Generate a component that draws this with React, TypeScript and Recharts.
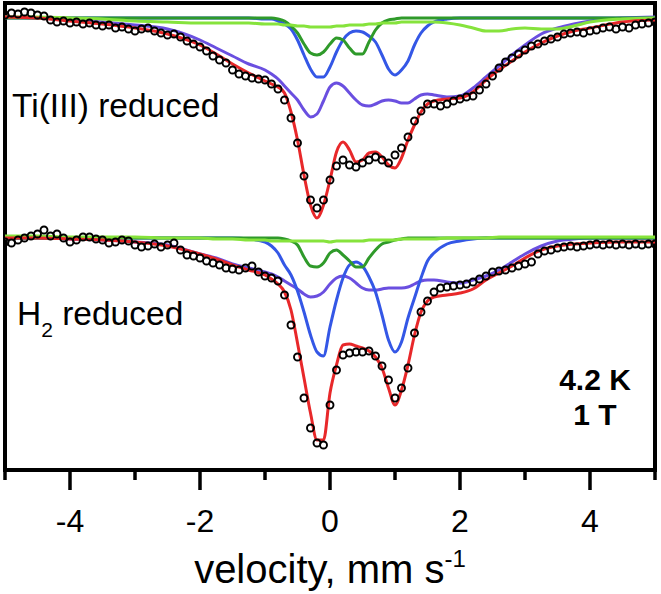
import React from 'react';
import { ComposedChart, Line, Scatter, XAxis, YAxis, ReferenceArea, Customized } from 'recharts';

// velocity grid of the measured points (mm/s)
const VEL_DATA = [
  -5.0, -4.9, -4.8, -4.7, -4.6, -4.5, -4.4, -4.3, -4.2, -4.1,
  -4.0, -3.9, -3.8, -3.7, -3.6, -3.5, -3.4, -3.3, -3.2, -3.1,
  -3.0, -2.9, -2.8, -2.7, -2.6, -2.5, -2.4, -2.3, -2.2, -2.1,
  -2.0, -1.9, -1.8, -1.7, -1.6, -1.5, -1.4, -1.3, -1.2, -1.1,
  -1.0, -0.9, -0.8, -0.7, -0.6, -0.5, -0.4, -0.3, -0.2, -0.1,
  0.0, 0.1, 0.2, 0.3, 0.4, 0.5, 0.6, 0.7, 0.8, 0.9,
  1.0, 1.1, 1.2, 1.3, 1.4, 1.5, 1.6, 1.7, 1.8, 1.9,
  2.0, 2.1, 2.2, 2.3, 2.4, 2.5, 2.6, 2.7, 2.8, 2.9,
  3.0, 3.1, 3.2, 3.3, 3.4, 3.5, 3.6, 3.7, 3.8, 3.9,
  4.0, 4.1, 4.2, 4.3, 4.4, 4.5, 4.6, 4.7, 4.8, 4.9,
  5.0,
];

// absorption (%) of the measured points, Ti(III) reduced sample
const TI_DATA = [
  -0.02, -0.04, -0.03, -0.05, -0.04, -0.02, -0.01, 0.03, 0.05, 0.04,
  0.06, 0.05, 0.07, 0.06, 0.08, 0.09, 0.08, 0.11, 0.10, 0.12,
  0.14, 0.12, 0.11, 0.14, 0.16, 0.18, 0.17, 0.20, 0.24, 0.27,
  0.30, 0.34, 0.39, 0.43, 0.46, 0.53, 0.57, 0.59, 0.61, 0.62,
  0.63, 0.67, 0.72, 0.83, 1.01, 1.26, 1.59, 1.83, 1.91, 1.83,
  1.63, 1.49, 1.43, 1.48, 1.50, 1.46, 1.43, 1.40, 1.43, 1.46,
  1.38, 1.31, 1.20, 1.04, 0.94, 0.87, 0.87, 0.89, 0.87, 0.84,
  0.82, 0.80, 0.79, 0.73, 0.67, 0.59, 0.51, 0.45, 0.41, 0.37,
  0.33, 0.29, 0.27, 0.24, 0.22, 0.20, 0.17, 0.16, 0.15, 0.16,
  0.14, 0.13, 0.11, 0.10, 0.12, 0.10, 0.11, 0.08, 0.07, 0.06,
  0.05,
];

// absorption (%) of the measured points, H2 reduced sample
const H2_DATA = [
  0.05, 0.06, 0.03, 0.01, -0.01, -0.03, -0.07, -0.01, -0.03, 0.01,
  0.05, 0.03, 0.00, 0.00, 0.02, 0.03, 0.06, 0.05, 0.03, 0.04,
  0.08, 0.10, 0.09, 0.07, 0.10, 0.08, 0.06, 0.13, 0.18, 0.19,
  0.21, 0.24, 0.26, 0.28, 0.31, 0.32, 0.33, 0.31, 0.29, 0.35,
  0.39, 0.41, 0.44, 0.58, 0.88, 1.20, 1.61, 1.91, 2.06, 2.08,
  1.68, 1.33, 1.18, 1.16, 1.15, 1.15, 1.14, 1.19, 1.29, 1.43,
  1.61, 1.51, 1.31, 0.96, 0.75, 0.64, 0.55, 0.51, 0.50, 0.49,
  0.48, 0.47, 0.45, 0.42, 0.39, 0.35, 0.34, 0.33, 0.31, 0.29,
  0.27, 0.25, 0.17, 0.14, 0.13, 0.11, 0.10, 0.09, 0.10, 0.09,
  0.08, 0.07, 0.08, 0.07, 0.08, 0.07, 0.08, 0.07, 0.08, 0.07,
  0.07,
];

// velocity grid of the fit curves (mm/s)
const VEL_FIT = [
  -5, -4.5, -4, -3.5, -3, -2.5, -2, -1.75, -1.5, -1.25,
  -1.0, -0.9, -0.8, -0.7, -0.6, -0.5, -0.4, -0.3, -0.2, -0.1,
  0.0, 0.1, 0.2, 0.3, 0.4, 0.5, 0.6, 0.7, 0.8, 0.9,
  1.0, 1.1, 1.2, 1.3, 1.4, 1.5, 1.6, 1.8, 2.0, 2.2,
  2.4, 2.6, 2.8, 3.0, 3.25, 3.5, 3.75, 4, 4.5, 5,
];

// Ti(III) reduced: total fit and components (absorption %)
const TI_TOTAL = [
  0.00, 0.01, 0.04, 0.07, 0.11, 0.17, 0.28, 0.37, 0.47, 0.56,
  0.64, 0.67, 0.70, 0.76, 0.95, 1.23, 1.58, 1.88, 2.01, 1.88,
  1.63, 1.35, 1.25, 1.33, 1.45, 1.43, 1.36, 1.35, 1.40, 1.48,
  1.51, 1.41, 1.23, 1.08, 0.95, 0.87, 0.84, 0.82, 0.81, 0.75,
  0.63, 0.53, 0.44, 0.35, 0.26, 0.19, 0.14, 0.11, 0.05, 0.03,
];
const TI_MAGNETIC = [
  0.00, 0.01, 0.03, 0.05, 0.08, 0.12, 0.23, 0.31, 0.39, 0.47,
  0.53, 0.57, 0.62, 0.69, 0.76, 0.83, 0.93, 1.00, 0.97, 0.84,
  0.70, 0.66, 0.69, 0.76, 0.83, 0.88, 0.89, 0.87, 0.84, 0.83,
  0.84, 0.86, 0.86, 0.82, 0.78, 0.77, 0.78, 0.80, 0.79, 0.71,
  0.60, 0.49, 0.38, 0.28, 0.17, 0.11, 0.07, 0.04, 0.01, 0.00,
];
const TI_DOUBLET_A = [
  0.01, 0.01, 0.01, 0.01, 0.01, 0.01, 0.01, 0.01, 0.01, 0.01,
  0.02, 0.02, 0.04, 0.07, 0.12, 0.23, 0.38, 0.52, 0.60, 0.60,
  0.50, 0.35, 0.23, 0.16, 0.14, 0.15, 0.19, 0.25, 0.38, 0.52,
  0.58, 0.53, 0.44, 0.28, 0.16, 0.09, 0.05, 0.02, 0.01, 0.01,
  0.01, 0.01, 0.01, 0.01, 0.01, 0.01, 0.01, 0.01, 0.01, 0.01,
];
const TI_DOUBLET_B = [
  0.01, 0.01, 0.01, 0.01, 0.01, 0.01, 0.01, 0.01, 0.01, 0.01,
  0.01, 0.01, 0.02, 0.04, 0.09, 0.16, 0.27, 0.36, 0.38, 0.35,
  0.27, 0.21, 0.23, 0.31, 0.37, 0.37, 0.25, 0.13, 0.06, 0.03,
  0.02, 0.01, 0.01, 0.01, 0.01, 0.01, 0.01, 0.01, 0.01, 0.01,
  0.01, 0.01, 0.01, 0.01, 0.01, 0.01, 0.01, 0.01, 0.01, 0.01,
];
const TI_BROAD = [
  0.00, 0.00, 0.01, 0.02, 0.04, 0.05, 0.06, 0.06, 0.06, 0.06,
  0.07, 0.07, 0.07, 0.08, 0.08, 0.09, 0.09, 0.10, 0.10, 0.10,
  0.10, 0.09, 0.09, 0.08, 0.08, 0.08, 0.07, 0.07, 0.06, 0.06,
  0.06, 0.05, 0.05, 0.05, 0.05, 0.05, 0.05, 0.06, 0.08, 0.11,
  0.14, 0.14, 0.12, 0.11, 0.12, 0.12, 0.09, 0.05, 0.02, 0.01,
];

// H2 reduced: total fit and components (absorption %)
const H2_TOTAL = [
  0.01, 0.01, 0.02, 0.03, 0.05, 0.09, 0.17, 0.22, 0.28, 0.33,
  0.38, 0.42, 0.47, 0.55, 0.73, 1.06, 1.41, 1.76, 2.03, 2.03,
  1.56, 1.28, 1.08, 1.07, 1.09, 1.11, 1.14, 1.20, 1.31, 1.51,
  1.68, 1.53, 1.28, 0.98, 0.75, 0.64, 0.60, 0.58, 0.56, 0.52,
  0.43, 0.36, 0.29, 0.21, 0.13, 0.09, 0.07, 0.06, 0.05, 0.05,
];
const H2_MAGNETIC = [
  0.01, 0.01, 0.02, 0.03, 0.05, 0.08, 0.17, 0.21, 0.27, 0.31,
  0.35, 0.37, 0.40, 0.44, 0.48, 0.52, 0.57, 0.60, 0.59, 0.55,
  0.47, 0.41, 0.39, 0.41, 0.46, 0.51, 0.53, 0.53, 0.52, 0.51,
  0.51, 0.51, 0.50, 0.47, 0.44, 0.43, 0.43, 0.45, 0.46, 0.43,
  0.39, 0.33, 0.25, 0.17, 0.09, 0.04, 0.02, 0.01, 0.01, 0.01,
];
const H2_DOUBLET_A = [
  0.01, 0.01, 0.01, 0.01, 0.01, 0.01, 0.01, 0.01, 0.01, 0.02,
  0.05, 0.09, 0.16, 0.28, 0.38, 0.54, 0.75, 0.98, 1.15, 1.19,
  0.90, 0.63, 0.41, 0.28, 0.25, 0.29, 0.40, 0.55, 0.78, 1.03,
  1.15, 1.05, 0.81, 0.61, 0.41, 0.24, 0.16, 0.07, 0.04, 0.02,
  0.01, 0.01, 0.01, 0.01, 0.01, 0.01, 0.01, 0.01, 0.01, 0.01,
];
const H2_DOUBLET_B = [
  0.01, 0.01, 0.01, 0.01, 0.01, 0.01, 0.01, 0.01, 0.01, 0.01,
  0.01, 0.01, 0.01, 0.02, 0.04, 0.08, 0.20, 0.29, 0.30, 0.26,
  0.16, 0.13, 0.18, 0.24, 0.30, 0.30, 0.21, 0.13, 0.07, 0.05,
  0.03, 0.02, 0.01, 0.01, 0.01, 0.01, 0.01, 0.01, 0.01, 0.01,
  0.01, 0.01, 0.01, 0.01, 0.01, 0.01, 0.01, 0.01, 0.01, 0.01,
];
const H2_BROAD = [
  -0.01, -0.01, 0.00, 0.00, 0.00, 0.01, 0.01, 0.02, 0.02, 0.03,
  0.03, 0.04, 0.04, 0.04, 0.04, 0.04, 0.04, 0.04, 0.04, 0.04,
  0.05, 0.04, 0.04, 0.04, 0.04, 0.04, 0.03, 0.03, 0.03, 0.03,
  0.03, 0.02, 0.02, 0.02, 0.02, 0.02, 0.02, 0.01, 0.01, 0.01,
  0.01, 0.00, 0.00, 0.00, 0.00, 0.00, 0.00, 0.00, 0.00, 0.00,
];

const TI_OFFSET = 0;
const H2_OFFSET = -2.2;
const Y_DOMAIN: [number, number] = [-4.53, 0.14];
const X_TICKS = [-5, -4, -3, -2, -1, 0, 1, 2, 3, 4, 5];
const X_TITLE = 'velocity, mm s';
const X_TITLE_SUP = '-1';
const LABEL_TI = 'Ti(III) reduced';
const LABEL_H2 = 'H';
const LABEL_H2_SUB = '2';
const LABEL_H2_REST = ' reduced';
const COND_T = '4.2 K';
const COND_B = '1 T';

const FONT = '"Liberation Sans", Arial, Helvetica, sans-serif';

const fitRows = VEL_FIT.map((v, i) => ({
  v,
  tiTotal: TI_OFFSET - TI_TOTAL[i],
  tiMag: TI_OFFSET - TI_MAGNETIC[i],
  tiA: TI_OFFSET - TI_DOUBLET_A[i],
  tiB: TI_OFFSET - TI_DOUBLET_B[i],
  tiBroad: TI_OFFSET - TI_BROAD[i],
  h2Total: H2_OFFSET - H2_TOTAL[i],
  h2Mag: H2_OFFSET - H2_MAGNETIC[i],
  h2A: H2_OFFSET - H2_DOUBLET_A[i],
  h2B: H2_OFFSET - H2_DOUBLET_B[i],
  h2Broad: H2_OFFSET - H2_BROAD[i],
}));
const tiPoints = VEL_DATA.map((v, i) => ({ v, y: TI_OFFSET - TI_DATA[i] }));
const h2Points = VEL_DATA.map((v, i) => ({ v, y: H2_OFFSET - H2_DATA[i] }));

const RED = '#e8282a';
const PURPLE = '#6a4fe0';
const BLUE = '#3457e6';
const DGREEN = '#2f9a2a';
const LGREEN = '#86e33c';

const Tick = (props: any) => {
  const { x, y, payload } = props;
  const val = payload.value;
  const major = Math.abs(val) % 2 === 0;
  return (
    <g>
      <line x1={x} x2={x} y1={y} y2={y + (major ? 20 : 10)} stroke="#000" strokeWidth={3.5} />
      {major ? (
        <text x={x} y={y + 62} textAnchor="middle" fontSize={32} fontFamily={FONT} fill="#000">
          {val}
        </text>
      ) : null}
    </g>
  );
};

const Circle = (props: any) => {
  const { cx, cy } = props;
  if (cx == null || cy == null) return null;
  return <circle cx={cx} cy={cy} r={3.5} fill="none" stroke="#000" strokeWidth={1.9} />;
};

const Annotations = () => (
  <g fontFamily={FONT} fill="#000">
    <text x={12} y={117} fontSize={33.5}>{LABEL_TI}</text>
    <text x={17} y={325} fontSize={33.5}>
      {LABEL_H2}
      <tspan fontSize={21} dy={12}>{LABEL_H2_SUB}</tspan>
      <tspan dy={-12}>{LABEL_H2_REST}</tspan>
    </text>
    <text x={595} y={390} fontSize={30} fontWeight="bold" textAnchor="middle">{COND_T}</text>
    <text x={595} y={425} fontSize={30} fontWeight="bold" textAnchor="middle">{COND_B}</text>
    <text x={330} y={583} fontSize={40} textAnchor="middle">
      {X_TITLE}
      <tspan fontSize={24} dy={-16}>{X_TITLE_SUP}</tspan>
    </text>
  </g>
);

const lineProps = { type: 'monotone' as const, dot: false, activeDot: false, isAnimationActive: false, strokeWidth: 3 };

export default function App() {
  return (
    <div style={{ position: 'absolute', left: 0, top: 0, background: '#fff' }}>
      <ComposedChart width={661} height={594} data={fitRows} margin={{ top: 3, right: 6, bottom: 0, left: 5 }}>
        <XAxis
          dataKey="v"
          type="number"
          domain={[-5, 5]}
          ticks={X_TICKS}
          interval={0}
          tick={<Tick />}
          tickLine={false}
          axisLine={false}
          tickSize={0}
          tickMargin={0}
          height={124}
          allowDataOverflow
        />
        <YAxis type="number" domain={Y_DOMAIN} hide allowDataOverflow />
        <Scatter data={tiPoints} dataKey="y" shape={<Circle />} isAnimationActive={false} />
        <Scatter data={h2Points} dataKey="y" shape={<Circle />} isAnimationActive={false} />
        <Line dataKey="tiMag" stroke={PURPLE} {...lineProps} />
        <Line dataKey="tiA" stroke={BLUE} {...lineProps} />
        <Line dataKey="tiB" stroke={DGREEN} {...lineProps} />
        <Line dataKey="tiBroad" stroke={LGREEN} {...lineProps} />
        <Line dataKey="tiTotal" stroke={RED} {...lineProps} />
        <Line dataKey="h2Mag" stroke={PURPLE} {...lineProps} />
        <Line dataKey="h2A" stroke={BLUE} {...lineProps} />
        <Line dataKey="h2B" stroke={DGREEN} {...lineProps} />
        <Line dataKey="h2Broad" stroke={LGREEN} {...lineProps} />
        <Line dataKey="h2Total" stroke={RED} {...lineProps} />
        <ReferenceArea
          x1={-5}
          x2={5}
          y1={Y_DOMAIN[0]}
          y2={Y_DOMAIN[1]}
          fill="none"
          fillOpacity={0}
          stroke="#000"
          strokeWidth={4}
          ifOverflow="visible"
        />
        <Customized component={Annotations} />
      </ComposedChart>
    </div>
  );
}
